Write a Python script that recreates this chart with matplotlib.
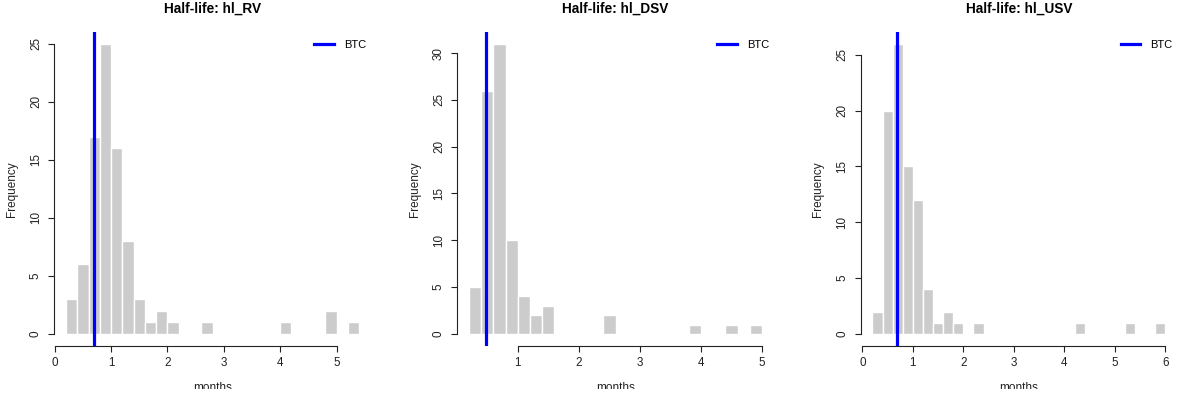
import numpy as np
import matplotlib
matplotlib.use("Agg")
import matplotlib.pyplot as plt
from matplotlib.transforms import Bbox, TransformedBbox

plt.rcParams['font.family'] = ['Liberation Sans', 'DejaVu Sans']

# =====================
# DATOS (histogramas, bins de 0.2 meses)
# =====================

titles = ["Half-life: hl_RV", "Half-life: hl_DSV", "Half-life: hl_USV"]
bin_width = 0.2
bin_start = [0.2, 0.2, 0.2]

counts_rv = [3, 6, 17, 25, 16, 8, 3, 1, 2, 1, 0, 0, 1, 0, 0, 0, 0, 0, 0, 1,
             0, 0, 0, 2, 0, 1]
counts_dsv = [5, 26, 31, 10, 4, 2, 3, 0, 0, 0, 0, 2, 0, 0, 0, 0, 0, 0, 1, 0,
              0, 1, 0, 1]
counts_usv = [2, 20, 26, 15, 12, 4, 1, 2, 1, 0, 1, 0, 0, 0, 0, 0, 0, 0, 0, 0,
              1, 0, 0, 0, 0, 1, 0, 0, 1]

btc = [0.70, 0.48, 0.69]

xticks = [[0, 1, 2, 3, 4, 5], [1, 2, 3, 4, 5], [0, 1, 2, 3, 4, 5, 6]]
yticks = [[0, 5, 10, 15, 20, 25], [0, 5, 10, 15, 20, 25, 30],
          [0, 5, 10, 15, 20, 25]]

all_counts = [counts_rv, counts_dsv, counts_usv]

# =====================
# FIGURA
# =====================

W, H = 1180, 398
fig = plt.figure(figsize=(W / 100, H / 100), dpi=100)

lefts = [54.3, 457.3, 860.7]
ax_w = 316.5
top_px, bot_px = 32.1, 345.5
ax_h = bot_px - top_px

clip = TransformedBbox(Bbox([[0, 9.0 / H], [1, 1]]), fig.transFigure)

for k in range(3):
    ax = fig.add_axes([lefts[k] / W, (H - bot_px) / H, ax_w / W, ax_h / H])
    counts = all_counts[k]
    edges = bin_start[k] + bin_width * np.arange(len(counts) + 1)

    ax.bar(edges[:-1], counts, width=bin_width, align='edge',
           color='#CCCCCC', edgecolor='white', linewidth=1.0)
    ax.axvline(btc[k], color='#0000FF', lw=2.3, label='BTC', zorder=3)

    lo, hi = edges[0], edges[-1]
    ax.set_xlim(lo - 0.04 * (hi - lo), hi + 0.04 * (hi - lo))
    ymax = max(counts)
    ax.set_ylim(-0.04 * ymax, 1.04 * ymax)

    ax.set_xticks(xticks[k])
    ax.set_yticks(yticks[k])
    for s in ['top', 'right']:
        ax.spines[s].set_visible(False)
    ax.spines['bottom'].set_bounds(xticks[k][0], xticks[k][-1])
    ax.spines['left'].set_bounds(yticks[k][0], yticks[k][-1])
    for s in ['bottom', 'left']:
        ax.spines[s].set_linewidth(0.8)
        ax.spines[s].set_color('#222222')
    ax.tick_params(length=4.3, width=0.8, color='#222222', labelsize=8.4,
                   labelcolor='#222222')
    ax.tick_params(axis='x', pad=4.0)
    ax.tick_params(axis='y', pad=4.6)
    for lab in ax.get_yticklabels():
        lab.set_rotation(90)
        lab.set_va('center')
        lab.set_ha('right')

    ax.text(0.5, 1 + (top_px - 12.3) / ax_h, titles[k], transform=ax.transAxes,
            ha='center', va='baseline', fontsize=9.8, fontweight='bold')
    t = ax.text(0.5, -(391.0 - bot_px) / ax_h, "months", transform=ax.transAxes,
                ha='center', va='baseline', fontsize=8.5, color='#222222')
    t.set_clip_box(clip)
    t.set_clip_on(True)
    ax.text(-42.3 / ax_w, 0.5, "Frequency", transform=ax.transAxes,
            rotation=90, ha='center', va='center', fontsize=8.5,
            color='#222222')

    ax.legend(loc='upper right', bbox_to_anchor=(1, 0.99), frameon=False,
              fontsize=8.0, handlelength=1.75, handletextpad=0.9,
              borderaxespad=0, borderpad=0.42)

fig.savefig("out.png", dpi=100)
